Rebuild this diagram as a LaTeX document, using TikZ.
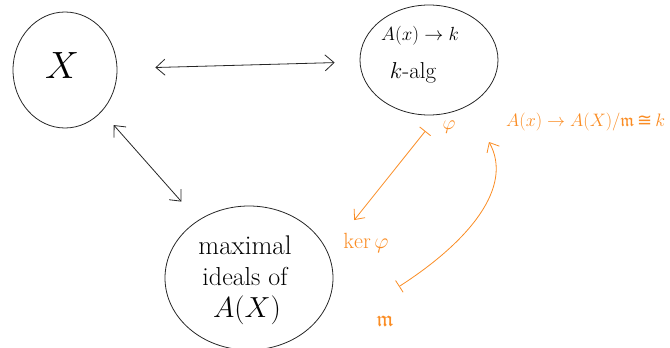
\RequirePackage{fix-cm}
\documentclass[tikz,border=0pt]{standalone}
\usepackage{amssymb}
\usepackage{fontspec}
\newfontfamily\symfont{DejaVu Sans}
\usetikzlibrary{shapes.geometric,arrows.meta}
\definecolor{penorange}{RGB}{250,140,35}
\tikzset{
  blob/.style={draw=black!85, ellipse, line width=0.8pt, inner sep=0pt},
  dbl/.style={draw=black!85, line width=0.8pt, {Straight Barb[length=9pt,width=16pt]}-{Straight Barb[length=9pt,width=16pt]}},
  omaps/.style={draw=penorange, line width=0.8pt, {Bar[width=14pt]}-{Straight Barb[length=8pt,width=14pt]}},
  otext/.style={text=penorange, inner sep=1pt},
  btext/.style={text=black, inner sep=1pt}
}
\begin{document}
\begin{tikzpicture}[x=1pt,y=-1pt]
\useasboundingbox (0,0) rectangle (670,348);
% ellipses
\node[blob, minimum width=104pt, minimum height=116pt] (X) at (65,70) {};
\node[btext, font=\fontsize{38}{40}\selectfont] (Xl) at (62,66) {$X$};
\node[blob, minimum width=138pt, minimum height=110pt] (T) at (429,60) {};
\node[btext, font=\fontsize{19}{22}\selectfont] (T1) at (420,36) {$A(x)\to k$};
\node[btext, font=\fontsize{23}{26}\selectfont] (T2) at (413,73) {$k$-alg};
\node[blob, minimum width=168pt, minimum height=144pt] (M) at (249,278) {};
\node[btext, font=\fontsize{27}{30}\selectfont] (M1) at (245,245) {maximal};
\node[btext, font=\fontsize{26}{30}\selectfont] (M2) at (245,276) {ideals of};
\node[btext, font=\fontsize{29}{32}\selectfont] (M3) at (247,310) {$A(X)$};
% black connectors
\draw[dbl, shorten <=38pt, shorten >=25pt] (X) -- (T);
\draw[dbl, shorten <=18pt, shorten >=25pt] (X) -- (M);
% orange labels
\node[otext, font=\fontsize{20}{22}\selectfont] (phi) at (449,127) {$\varphi$};
\node[otext, font=\fontsize{22}{24}\selectfont] (ker) at (366,243) {$\ker\varphi$};
\node[otext, font=\fontsize{22}{24}\selectfont] (m) at (385,321) {$\mathfrak{m}$};
\node[otext, font=\fontsize{18}{20}\selectfont, anchor=west] (F) at (505,122) {$A(x)\to A(X)/\mathfrak{m}$\,{\symfont ≅}\,$k$};
% orange connectors
\draw[omaps] ([shift={(-16,4)}]phi.west) -- ([shift={(12,-12)}]ker.north west);
\draw[omaps] ([shift={(14,-28)}]m.north) .. controls +(70,-45) and +(25,45) .. ([shift={(-16,20)}]F.west);
\end{tikzpicture}
\end{document}
